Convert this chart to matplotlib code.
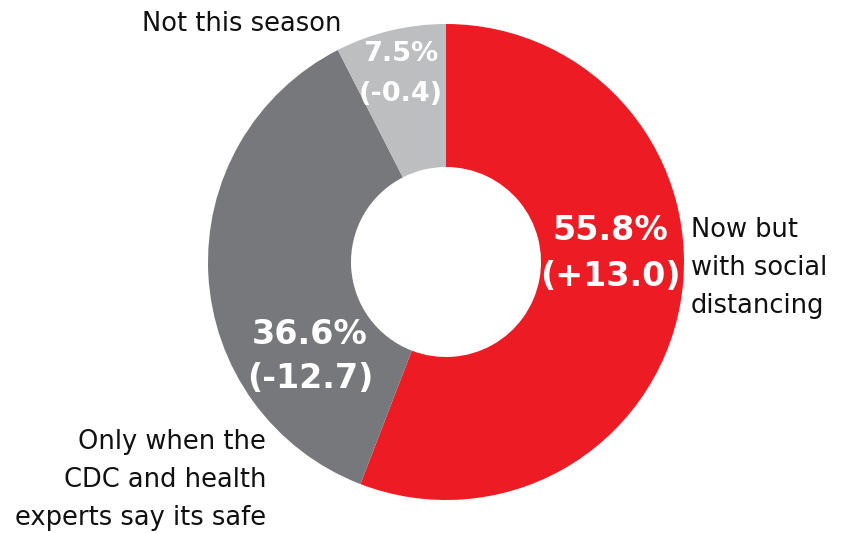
import matplotlib.pyplot as plt

# Data
labels = ['Now but\nwith social\ndistancing',
          'Only when the\nCDC and health\nexperts say its safe',
          'Not this season']
values = [55.8, 36.6, 7.5]
changes = ['(+13.0)', '(-12.7)', '(-0.4)']
colors = ['#ED1C24', '#77787B', '#BCBEC0']

W, H = 844, 533
fig = plt.figure(figsize=(W / 100, H / 100), dpi=100)
ax = fig.add_axes([0, 0, 1, 1])
ax.axis('off')

cx, cy, r = 446, H - 262, 238
ax.pie(values, colors=colors, startangle=90, counterclock=False,
       center=(cx, cy), radius=r,
       wedgeprops=dict(width=143, linewidth=0))
ax.set_xlim(0, W)
ax.set_ylim(0, H)
ax.set_aspect('equal')

# value labels (percent + change)
big = dict(color='white', fontweight='bold', ha='center', va='center',
           family='DejaVu Sans')
pos = [(610, 231, 276, 24), (310, 334, 379, 24), (401, 54, 94, 19.5)]
for v, c, (x, y1, y2, fs) in zip(values, changes, pos):
    ax.text(x, H - y1, f'{v:.1f}%', fontsize=fs, **big)
    ax.text(x, H - y2, c, fontsize=fs, **big)

# category labels
lab = dict(color='#111111', fontsize=18.5, family='DejaVu Sans',
           linespacing=1.58)
ax.text(691, H - 268, labels[0], ha='left', va='center', **lab)
ax.text(266, H - 480, labels[1], ha='right', va='center',
        multialignment='right', **lab)
ax.text(342, H - 24, labels[2], ha='right', va='center', **lab)

fig.savefig('out.png', dpi=100)
